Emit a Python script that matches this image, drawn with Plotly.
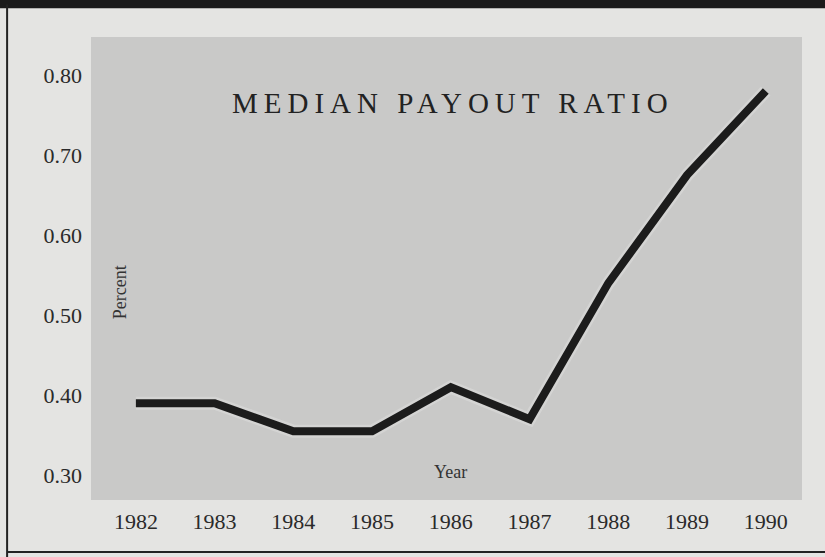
import plotly.graph_objects as go

years = [1982, 1983, 1984, 1985, 1986, 1987, 1988, 1989, 1990]
payout = [0.39, 0.39, 0.355, 0.355, 0.41, 0.37, 0.54, 0.675, 0.78]
y_ticks = [0.30, 0.40, 0.50, 0.60, 0.70, 0.80]
y_tick_text = ["0.30", "0.40", "0.50", "0.60", "0.70", "0.80"]

SERIF = "Liberation Serif, Times New Roman, serif"
INK = "#1c1c1c"

fig = go.Figure()
# soft light halo under the line, like the printed original
fig.add_trace(go.Scatter(
    x=years, y=payout, mode="lines",
    line=dict(color="rgba(232,232,232,0.35)", width=13),
    hoverinfo="skip", showlegend=False,
))
fig.add_trace(go.Scatter(
    x=years, y=payout, mode="lines",
    line=dict(color=INK, width=8),
    showlegend=False,
))

fig.update_layout(
    width=825, height=557,
    margin=dict(l=91, r=23, t=37, b=57),
    paper_bgcolor="#e4e4e2",
    plot_bgcolor="#c9c9c8",
    font=dict(family=SERIF, color="#2a2a2a", size=22),
    xaxis=dict(
        range=[1981.43, 1990.46], tickvals=years, showgrid=False,
        zeroline=False, showline=False, ticks="", ticklabelstandoff=6,
    ),
    yaxis=dict(
        range=[0.269, 0.8475], tickvals=y_ticks, ticktext=y_tick_text,
        showgrid=False, zeroline=False, showline=False, ticks="",
        ticklabelstandoff=8,
    ),
    annotations=[
        dict(text='<span style="letter-spacing:6px">MEDIAN PAYOUT RATIO</span>',
             x=0.509, y=0.857, xref="paper", yref="paper",
             xanchor="center", yanchor="middle",
             showarrow=False, font=dict(size=29, family=SERIF, color="#222")),
        dict(text="Percent", x=0.041, y=0.449, xref="paper", yref="paper",
             xanchor="center", yanchor="middle",
             textangle=-90, showarrow=False, font=dict(size=18, family=SERIF, color="#333")),
        dict(text="Year", x=0.505, y=0.06, xref="paper", yref="paper",
             xanchor="center", yanchor="middle",
             showarrow=False, font=dict(size=18, family=SERIF, color="#333")),
    ],
    shapes=[
        # dark band along the top of the scan
        dict(type="rect", xref="paper", yref="paper", x0=-0.14, x1=1.04,
             y0=1.062, y1=1.09, fillcolor="#1a1a1a", line_width=0, layer="above"),
        # left and bottom edge lines of the scan
        dict(type="line", xref="paper", yref="paper", x0=-0.118, x1=-0.118,
             y0=-0.13, y1=1.07, line=dict(color="#222", width=2)),
        dict(type="line", xref="paper", yref="paper", x0=-0.118, x1=1.04,
             y0=-0.1123, y1=-0.1123, line=dict(color="#222", width=2)),
    ],
)

fig.write_html("out.html", config={"displayModeBar": False},
               post_script="document.body.style.margin='0';")
